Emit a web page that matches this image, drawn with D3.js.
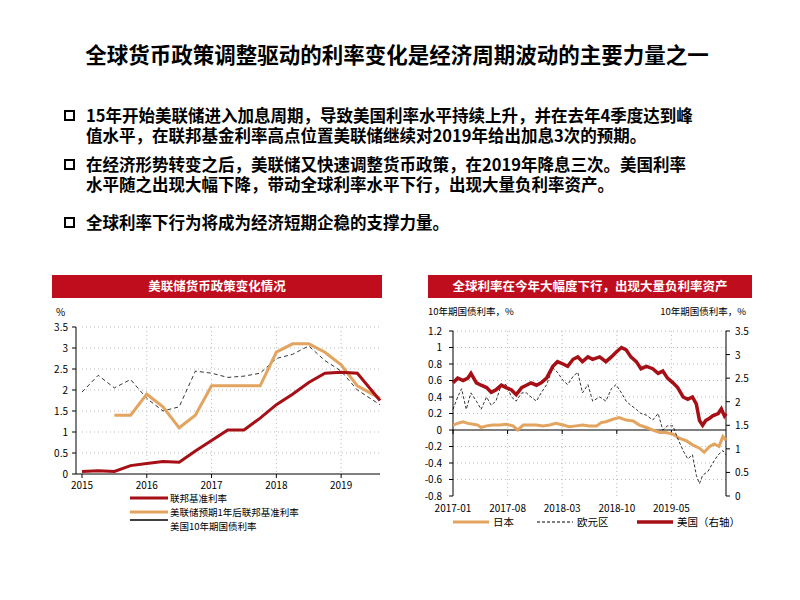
<!DOCTYPE html><html><head><meta charset="utf-8"><script src="https://cdn.jsdelivr.net/npm/d3@7"></script>
<style>body{margin:0;background:#fff}text{font-family:"Noto Sans CJK SC","Noto Sans",sans-serif}</style></head><body>
<svg id="s" width="800" height="600"></svg>
<script>
const title="全球货币政策调整驱动的利率变化是经济周期波动的主要力量之一";
const bullets=[["15年开始美联储进入加息周期，导致美国利率水平持续上升，并在去年4季度达到峰","值水平，在联邦基金利率高点位置美联储继续对2019年给出加息3次的预期。"],["在经济形势转变之后，美联储又快速调整货币政策，在2019年降息三次。美国利率","水平随之出现大幅下降，带动全球利率水平下行，出现大量负利率资产。"],["全球利率下行为将成为经济短期企稳的支撑力量。"]];
// left chart
const qDates=[2015.0,2015.25,2015.5,2015.75,2016.0,2016.25,2016.5,2016.75,2017.0,2017.25,2017.5,2017.75,2018.0,2018.25,2018.5,2018.75,2019.0,2019.25,2019.6];
const fedFunds=[0.06,0.08,0.06,0.2,0.25,0.3,0.28,0.55,0.8,1.05,1.05,1.33,1.65,1.9,2.18,2.4,2.42,2.4,1.75];
const fedExpect=[null,null,1.4,1.4,1.9,1.6,1.1,1.4,2.1,2.1,2.1,2.1,2.9,3.1,3.1,2.9,2.6,2.1,1.8];
const us10yQ=[1.95,2.35,2.05,2.25,1.8,1.5,1.6,2.45,2.4,2.3,2.33,2.4,2.75,2.85,3.05,2.7,2.45,2.0,1.65];
const leftYTicks=[0,0.5,1,1.5,2,2.5,3,3.5];
const leftXTicks=[2015,2016,2017,2018,2019];
// right chart (months since 2017-01)
const usM=[0,0.6,1.3,1.9,2.3,3.0,3.6,4.3,4.9,5.5,6.2,6.8,7.5,8.1,8.8,9.4,10.0,10.7,11.3,12.0,12.8,13.4,14.1,14.7,15.4,16.0,16.6,17.3,17.9,18.8,19.6,20.3,20.9,21.6,22.2,22.8,23.5,24.1,24.8,25.6,26.3,26.9,27.5,28.2,28.8,29.5,30.1,30.7,31.2,31.6,32.0,32.4,32.9,33.3,34.0,34.4,34.8,35.0];
const usV=[2.4,2.5,2.45,2.5,2.6,2.4,2.35,2.3,2.2,2.25,2.35,2.3,2.25,2.15,2.3,2.35,2.4,2.35,2.4,2.5,2.75,2.85,2.8,2.75,2.9,2.95,2.85,2.95,2.9,2.95,2.85,2.95,3.05,3.15,3.1,2.95,2.85,2.7,2.75,2.7,2.6,2.65,2.5,2.4,2.3,2.1,2.05,2.1,1.95,1.6,1.5,1.6,1.65,1.7,1.75,1.85,1.7,1.75];
const euM=[0,0.6,1.1,1.7,2.3,3.0,3.6,4.3,4.9,5.5,6.2,6.8,7.5,8.1,8.8,9.4,10.0,10.7,11.3,12.0,12.8,13.4,14.1,14.7,15.4,16.0,16.6,17.3,17.9,18.8,19.6,20.3,20.9,21.6,22.2,22.8,23.5,24.1,24.8,25.6,26.3,26.9,27.5,28.2,28.8,29.5,30.1,30.7,31.2,31.6,32.0,32.7,33.3,34.0,34.6,35.0];
const euV=[0.25,0.4,0.5,0.25,0.45,0.35,0.25,0.4,0.3,0.35,0.55,0.55,0.4,0.35,0.45,0.45,0.4,0.35,0.45,0.55,0.75,0.7,0.6,0.55,0.65,0.7,0.45,0.55,0.35,0.4,0.35,0.5,0.55,0.45,0.35,0.3,0.25,0.2,0.18,0.12,0.2,0.0,0.05,0.05,-0.1,-0.25,-0.35,-0.3,-0.55,-0.65,-0.55,-0.5,-0.4,-0.3,-0.25,-0.3];
const jpM=[0,0.6,1.3,1.9,2.6,3.2,3.6,4.3,5.1,6.0,6.8,7.7,8.3,9.0,9.8,10.7,11.5,12.4,13.2,14.1,14.9,15.8,16.6,17.5,18.4,19.0,19.6,20.5,21.3,22.2,23.1,23.9,24.8,25.6,26.5,27.3,28.2,29.0,29.9,30.7,31.6,32.2,32.9,33.5,34.1,34.6,35.0];
const jpV=[0.06,0.08,0.1,0.08,0.07,0.06,0.03,0.05,0.06,0.06,0.07,0.05,0.0,0.06,0.06,0.06,0.05,0.06,0.08,0.06,0.04,0.05,0.06,0.05,0.05,0.09,0.1,0.13,0.15,0.12,0.11,0.06,0.03,0.0,-0.03,-0.03,-0.05,-0.1,-0.13,-0.18,-0.22,-0.27,-0.2,-0.17,-0.2,-0.08,-0.12];
const rightXTicks=[[0,"2017-01"],[7,"2017-08"],[14,"2018-03"],[21,"2018-10"],[28,"2019-05"]];
const rLeftTicks=[-0.8,-0.6,-0.4,-0.2,0,0.2,0.4,0.6,0.8,1,1.2];
const rRightTicks=[0,0.5,1,1.5,2,2.5,3,3.5];

const svg=d3.select("#s");
svg.append("text").attr("x",397).attr("y",63).attr("text-anchor","middle").attr("font-size",21.5).attr("font-weight","bold").text(title);
const by=[122,171,229];
bullets.forEach((b,i)=>{
  svg.append("rect").attr("x",65).attr("y",by[i]-11).attr("width",9).attr("height",9).attr("fill","none").attr("stroke","#000").attr("stroke-width",2);
  b.forEach((l,j)=>svg.append("text").attr("x",86).attr("y",by[i]+j*20).attr("font-size",16.5).attr("font-weight","bold").text(l));
});

function header(x,w,t){svg.append("rect").attr("x",x).attr("y",275).attr("width",w).attr("height",23).attr("fill","#c00d1e");
 svg.append("text").attr("x",x+w/2).attr("y",291).attr("text-anchor","middle").attr("fill","#fff").attr("font-size",12.5).attr("font-weight","bold").text(t);}
header(52,330,"美联储货币政策变化情况");header(428,324,"全球利率在今年大幅度下行，出现大量负利率资产");

// left chart
const lx=d3.scaleLinear().domain([2015,2019.6]).range([82,380]);
const ly=d3.scaleLinear().domain([0,3.5]).range([474,327]);
const L=svg.append("g");
leftYTicks.forEach(t=>{ if(t>0) L.append("line").attr("x1",82).attr("x2",380).attr("y1",ly(t)).attr("y2",ly(t)).attr("stroke","#bbb").attr("stroke-dasharray","1,3");
 L.append("text").attr("x",68).attr("y",ly(t)+4).attr("text-anchor","end").attr("font-size",10).attr("font-family","Liberation Sans").text(t);});
leftXTicks.forEach(t=>{ if(t>2015) L.append("line").attr("x1",lx(t)).attr("x2",lx(t)).attr("y1",327).attr("y2",474).attr("stroke","#bbb").attr("stroke-dasharray","1,3");
 L.append("line").attr("x1",lx(t)).attr("x2",lx(t)).attr("y1",474).attr("y2",478).attr("stroke","#000");
 L.append("text").attr("x",lx(t)).attr("y",489).attr("text-anchor","middle").attr("font-size",10).attr("font-family","Liberation Sans").text(t);});
L.append("line").attr("x1",76).attr("x2",380).attr("y1",474).attr("y2",474).attr("stroke","#000");
L.append("line").attr("x1",76).attr("x2",76).attr("y1",327).attr("y2",474).attr("stroke","#000");
leftYTicks.forEach(t=>L.append("line").attr("x1",72).attr("x2",76).attr("y1",ly(t)).attr("y2",ly(t)).attr("stroke","#000"));
L.append("text").attr("x",56).attr("y",316).attr("font-size",10).text("%");
const ll=d3.line().defined(d=>d[1]!=null).x(d=>lx(d[0])).y(d=>ly(d[1]));
L.append("path").attr("d",ll(qDates.map((d,i)=>[d,us10yQ[i]]))).attr("fill","none").attr("stroke","#000").attr("stroke-width",0.8).attr("stroke-dasharray","4,3");
L.append("path").attr("d",ll(qDates.map((d,i)=>[d,fedExpect[i]]))).attr("fill","none").attr("stroke","#e3a45f").attr("stroke-width",3);
L.append("path").attr("d",ll(qDates.map((d,i)=>[d,fedFunds[i]]))).attr("fill","none").attr("stroke","#a50f15").attr("stroke-width",3);
[["#a50f15",3,"联邦基准利率",502],["#e3a45f",3,"美联储预期1年后联邦基准利率",516],["#000",1.5,"美国10年期国债利率",530]].forEach(([c,w,t,y],i)=>{
 L.append("line").attr("x1",130).attr("x2",168).attr("y1",i==2?y-10:y-4).attr("y2",i==2?y-10:y-4).attr("stroke",c).attr("stroke-width",w);
 L.append("text").attr("x",170).attr("y",y).attr("font-size",9.5).text(t);});

// right chart
const rx=d3.scaleLinear().domain([0,35]).range([453,726]);
const ry=d3.scaleLinear().domain([-0.8,1.2]).range([496,331]);
const ry2=d3.scaleLinear().domain([0,3.5]).range([496,331]);
const R=svg.append("g");
rLeftTicks.forEach(t=>{ if(t!=0&&t!=-0.8) R.append("line").attr("x1",453).attr("x2",726).attr("y1",ry(t)).attr("y2",ry(t)).attr("stroke","#bbb").attr("stroke-dasharray","1,3");
 R.append("line").attr("x1",449).attr("x2",453).attr("y1",ry(t)).attr("y2",ry(t)).attr("stroke","#000");
 R.append("text").attr("x",442).attr("y",ry(t)+3.5).attr("text-anchor","end").attr("font-size",10).attr("font-family","Liberation Sans").text(t);});
rRightTicks.forEach(t=>{R.append("line").attr("x1",726).attr("x2",730).attr("y1",ry2(t)).attr("y2",ry2(t)).attr("stroke","#000");
 R.append("text").attr("x",735).attr("y",ry2(t)+4).attr("font-size",10).attr("font-family","Liberation Sans").text(t);});
rightXTicks.forEach(([m,t])=>{ if(m>0) R.append("line").attr("x1",rx(m)).attr("x2",rx(m)).attr("y1",331).attr("y2",496).attr("stroke","#bbb").attr("stroke-dasharray","1,3");
 R.append("line").attr("x1",rx(m)).attr("x2",rx(m)).attr("y1",ry(0)).attr("y2",ry(0)+4).attr("stroke","#000");
 R.append("text").attr("x",rx(m)).attr("y",512).attr("text-anchor","middle").attr("font-size",10).attr("font-family","Liberation Sans").text(t);});
R.append("line").attr("x1",453).attr("x2",453).attr("y1",331).attr("y2",496).attr("stroke","#000");
R.append("line").attr("x1",726).attr("x2",726).attr("y1",331).attr("y2",496).attr("stroke","#000");
R.append("line").attr("x1",453).attr("x2",726).attr("y1",ry(0)).attr("y2",ry(0)).attr("stroke","#000");
R.append("text").attr("x",428).attr("y",315).attr("font-size",9.5).text("10年期国债利率，%");
R.append("text").attr("x",746).attr("y",315).attr("text-anchor","end").attr("font-size",9.5).text("10年期国债利率，%");
const rl=(sc)=>d3.line().x(d=>rx(d[0])).y(d=>sc(d[1]));
R.append("path").attr("d",rl(ry)(jpM.map((m,i)=>[m,jpV[i]]))).attr("fill","none").attr("stroke","#e3a45f").attr("stroke-width",3);
R.append("path").attr("d",rl(ry)(euM.map((m,i)=>[m,euV[i]]))).attr("fill","none").attr("stroke","#000").attr("stroke-width",0.8).attr("stroke-dasharray","3,2");
R.append("path").attr("d",rl(ry2)(usM.map((m,i)=>[m,usV[i]]))).attr("fill","none").attr("stroke","#a50f15").attr("stroke-width",3.5);
[["#e3a45f",3,null,"日本",453],["#000",1,"3,2","欧元区",537],["#a50f15",3.5,null,"美国（右轴）",637]].forEach(([c,w,da,t,x])=>{
 R.append("line").attr("x1",x).attr("x2",x+36).attr("y1",522).attr("y2",522).attr("stroke",c).attr("stroke-width",w).attr("stroke-dasharray",da);
 R.append("text").attr("x",x+40).attr("y",526).attr("font-size",10.5).text(t);});
</script></body></html>
